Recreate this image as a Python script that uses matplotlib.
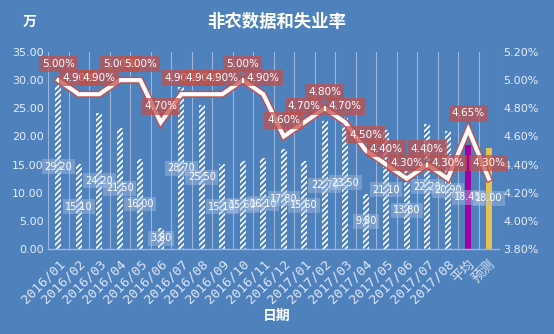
import matplotlib
matplotlib.use("Agg")
import matplotlib.pyplot as plt
import numpy as np

plt.rcParams['font.family'] = ['Noto Sans CJK SC', 'DejaVu Sans']
plt.rcParams['hatch.color'] = 'white'
plt.rcParams['hatch.linewidth'] = 1.2

categories = ['2016/01', '2016/02', '2016/03', '2016/04', '2016/05', '2016/06',
              '2016/07', '2016/08', '2016/09', '2016/10', '2016/11', '2016/12',
              '2017/01', '2017/02', '2017/03', '2017/04', '2017/05', '2017/06',
              '2017/07', '2017/08', '平均', '预测']
nonfarm = [29.20, 15.10, 24.20, 21.50, 16.00, 3.80, 28.70, 25.50, 15.10, 15.60,
           16.10, 17.80, 15.60, 22.70, 23.50, 9.80, 21.10, 13.80, 22.20, 20.90,
           18.45, 18.00]
unemployment = [5.00, 4.90, 4.90, 5.00, 5.00, 4.70, 4.90, 4.90, 4.90, 5.00,
                4.90, 4.60, 4.70, 4.80, 4.70, 4.50, 4.40, 4.30, 4.40, 4.30,
                4.65, 4.30]

bg = '#4f81bd'
fig = plt.figure(figsize=(5.54, 3.34), dpi=100, facecolor=bg)
ax = fig.add_axes([48/554, 1-249/334, 451/554, 197/334])
ax.set_facecolor(bg)
x = np.arange(len(categories))

n = len(categories)
for i in range(n):
    if i < n - 2:
        ax.bar(x[i], nonfarm[i], width=0.3, color=bg, hatch='//////',
               edgecolor='white', linewidth=0, zorder=2)
    elif i == n - 2:
        ax.bar(x[i], nonfarm[i], width=0.3, color='#a000a0', linewidth=0, zorder=2)
    else:
        ax.bar(x[i], nonfarm[i], width=0.3, color='#e8c24e', linewidth=0, zorder=2)

for i in range(n):
    ax.text(x[i], nonfarm[i] / 2, f'{nonfarm[i]:.2f}', ha='center', va='center',
            color='white', fontsize=7, zorder=3, family='DejaVu Sans',
            bbox=dict(boxstyle='square,pad=0.25', fc='#a9bfe0', ec='none', alpha=0.45))

ax.set_xlim(-0.5, n - 0.5)
ax.set_ylim(0, 35)
ax.set_yticks(np.arange(0, 35.01, 5))
ax.set_yticklabels([f'{v:.2f}' for v in np.arange(0, 35.01, 5)], color='#e8eef8',
                   fontsize=8, family='DejaVu Sans')
ax.set_xticks(x)
ax.set_xticklabels(categories, rotation=45, ha='right', rotation_mode='anchor',
                   color='#dce6f4', fontsize=9.5,
                   family=['DejaVu Sans Mono', 'Noto Sans CJK SC'])
ax.tick_params(axis='x', length=0, pad=6)
ax.tick_params(axis='y', length=0, pad=3)
for xb in np.arange(-0.5, n, 1):
    ax.axvline(xb, color='#9cb6dc', lw=0.8, zorder=1)
for s in ['top', 'right', 'left']:
    ax.spines[s].set_visible(False)
ax.spines['bottom'].set_color('#9cb6dc')
ax.spines['bottom'].set_linewidth(1.0)

ax2 = ax.twinx()
ax2.set_ylim(3.8, 5.2)
yt = np.arange(3.8, 5.201, 0.2)
ax2.set_yticks(yt)
ax2.set_yticklabels([f'{v:.2f}%' for v in yt], color='#e8eef8', fontsize=8,
                    family='DejaVu Sans')
ax2.tick_params(axis='y', length=0, pad=3)
for s in ['top', 'right', 'left', 'bottom']:
    ax2.spines[s].set_visible(False)
ax2.plot(x, unemployment, color='#c0504d', lw=5, solid_joinstyle='miter', zorder=3)
ax2.plot(x, unemployment, color='white', lw=3, solid_joinstyle='miter', zorder=4)
for i in range(n):
    ax2.annotate(f'{unemployment[i]:.2f}%', (x[i], unemployment[i]), xytext=(0, 11.5),
                 textcoords='offset points', ha='center', va='center', color='white',
                 fontsize=7.5, family='DejaVu Sans', zorder=5,
                 bbox=dict(boxstyle='square,pad=0.3', fc='#c0504d', ec='none', alpha=0.75))

fig.text(0.5, 1-22/334, '非农数据和失业率', ha='center', va='center', color='white',
         fontsize=12.5, fontweight='bold')
fig.text(30/554, 1-22/334, '万', ha='center', va='center', color='white',
         fontsize=10, fontweight='bold')
fig.text(277/554, 1-316/334, '日期', ha='center', va='center', color='white',
         fontsize=10, fontweight='bold')

fig.savefig('out.png', dpi=100, facecolor=bg)
